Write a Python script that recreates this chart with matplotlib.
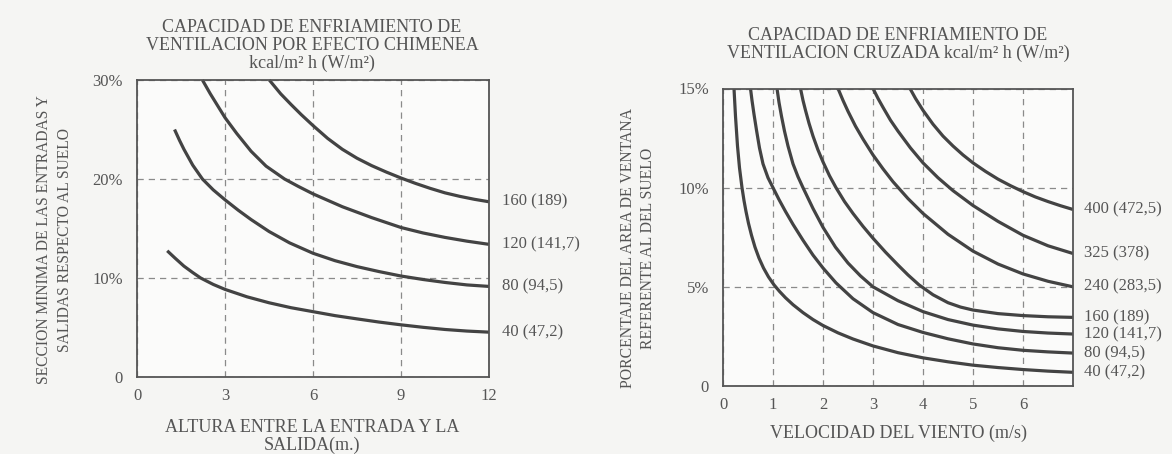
import matplotlib
matplotlib.use("Agg")
import matplotlib.pyplot as plt

# ---------------- data: left chart (stack effect) ----------------
left_xticks = [0, 3, 6, 9, 12]
left_yticks = [0, 10, 20, 30]
left_yticklabels = ["0", "10%", "20%", "30%"]

c160_x = [4.51, 4.9, 5.26, 5.6, 6.0, 6.5, 7.0, 7.5, 8.0, 8.5, 9.0, 9.5, 10.0, 10.5, 11.0, 11.5, 12.0]
c160_y = [30.0, 28.6, 27.5, 26.5, 25.4, 24.1, 23.0, 22.1, 21.35, 20.7, 20.1, 19.55, 19.05,
          18.6, 18.25, 17.95, 17.7]
c120_x = [2.23, 2.5, 2.75, 3.0, 3.4, 3.89, 4.4, 5.03, 5.5, 6.0, 6.5, 7.0, 8.0, 9.0, 9.75,
          10.5, 11.25, 12.0]
c120_y = [30.0, 28.6, 27.4, 26.2, 24.6, 22.8, 21.3, 20.0, 19.25, 18.5, 17.85, 17.2, 16.1,
          15.1, 14.55, 14.1, 13.72, 13.4]
c80_x = [1.28, 1.45, 1.6, 1.9, 2.23, 2.6, 3.0, 3.45, 3.89, 4.5, 5.2, 6.0, 6.75, 7.5, 8.25,
         9.0, 9.75, 10.5, 11.25, 12.0]
c80_y = [25.0, 23.9, 23.0, 21.4, 20.0, 18.9, 17.9, 16.85, 15.9, 14.7, 13.55, 12.5, 11.75,
         11.15, 10.65, 10.2, 9.85, 9.55, 9.3, 9.15]
c40_x = [1.03, 1.3, 1.6, 1.9, 2.17, 2.6, 3.0, 3.75, 4.5, 5.25, 6.0, 6.75, 7.5, 8.25, 9.0,
         9.75, 10.5, 11.25, 12.0]
c40_y = [12.75, 12.0, 11.2, 10.55, 10.0, 9.35, 8.85, 8.1, 7.5, 7.0, 6.6, 6.2, 5.87, 5.55,
         5.27, 5.02, 4.8, 4.64, 4.53]
left_labels = ["160 (189)", "120 (141,7)", "80 (94,5)", "40 (47,2)"]

# ---------------- data: right chart (cross ventilation) ----------------
right_xticks = [0, 1, 2, 3, 4, 5, 6]
right_yticks = [0, 5, 10, 15]
right_yticklabels = ["0", "5%", "10%", "15%"]

r400_x = [3.74, 3.85, 4.0, 4.2, 4.4, 4.6, 4.8, 5.0, 5.25, 5.5, 5.75, 6.0, 6.25, 6.5, 6.75, 7.0]
r400_y = [15.0, 14.5, 13.9, 13.2, 12.6, 12.1, 11.65, 11.25, 10.82, 10.43, 10.1, 9.8, 9.53,
          9.3, 9.09, 8.9]
r325_x = [3.0, 3.1, 3.2, 3.35, 3.5, 3.75, 4.0, 4.3, 4.6, 5.0, 5.5, 6.0, 6.5, 7.0]
r325_y = [15.0, 14.5, 14.05, 13.4, 12.85, 12.0, 11.25, 10.5, 9.85, 9.1, 8.3, 7.6, 7.07, 6.68]
r240_x = [2.3, 2.4, 2.5, 2.65, 2.8, 3.0, 3.2, 3.4, 3.7, 4.0, 4.5, 5.0, 5.5, 6.0, 6.5, 7.0]
r240_y = [15.0, 14.4, 13.85, 13.1, 12.45, 11.65, 10.95, 10.3, 9.45, 8.7, 7.65, 6.8, 6.15,
          5.65, 5.28, 5.0]
r160_x = [1.55, 1.6, 1.65, 1.72, 1.8, 1.9, 2.0, 2.13, 2.26, 2.43, 2.6, 2.8, 3.0, 3.25, 3.5,
          3.7, 3.92, 4.2, 4.5, 4.75, 5.0, 5.5, 6.0, 6.5, 7.0]
r160_y = [15.0, 14.4, 13.9, 13.25, 12.6, 11.9, 11.3, 10.6, 10.0, 9.3, 8.7, 8.05, 7.45, 6.75,
          6.1, 5.6, 5.1, 4.6, 4.2, 3.98, 3.83, 3.65, 3.55, 3.49, 3.46]
r120_x = [1.08, 1.12, 1.17, 1.23, 1.3, 1.4, 1.5, 1.6, 1.8, 2.0, 2.25, 2.5, 2.75, 3.0, 3.5,
          4.0, 4.5, 5.0, 5.5, 6.0, 6.5, 7.0]
r120_y = [15.0, 14.3, 13.6, 12.85, 12.1, 11.2, 10.55, 10.0, 8.95, 8.0, 7.0, 6.2, 5.55, 5.0,
          4.3, 3.75, 3.35, 3.07, 2.88, 2.75, 2.67, 2.62]
r80_x = [0.55, 0.58, 0.62, 0.67, 0.73, 0.8, 0.9, 1.0, 1.12, 1.25, 1.4, 1.6, 1.8, 2.0, 2.26,
         2.6, 3.0, 3.5, 4.0, 4.5, 5.0, 5.5, 6.0, 6.5, 7.0]
r80_y = [15.0, 14.4, 13.7, 12.9, 12.0, 11.2, 10.5, 10.0, 9.4, 8.8, 8.15, 7.35, 6.6, 5.95,
         5.2, 4.4, 3.7, 3.1, 2.7, 2.38, 2.12, 1.93, 1.8, 1.72, 1.66]
r40_x = [0.22, 0.25, 0.29, 0.33, 0.38, 0.42, 0.46, 0.51, 0.57, 0.64, 0.72, 0.81, 0.91, 1.02,
         1.13, 1.25, 1.4, 1.6, 1.8, 2.0, 2.3, 2.6, 3.0, 3.5, 4.0, 4.5, 5.0, 5.5, 6.0, 6.5, 7.0]
r40_y = [15.0, 13.6, 12.1, 11.0, 10.0, 9.35, 8.8, 8.2, 7.6, 7.0, 6.45, 5.95, 5.5, 5.1, 4.77,
         4.45, 4.1, 3.7, 3.35, 3.05, 2.68, 2.37, 2.02, 1.68, 1.42, 1.22, 1.05, 0.93, 0.83,
         0.75, 0.69]
right_labels = ["400 (472,5)", "325 (378)", "240 (283,5)", "160 (189)",
                "120 (141,7)", "80 (94,5)", "40 (47,2)"]

# ---------------- style ----------------
FONT = "Liberation Serif"
TXT = "#555555"
CURVE = "#434343"
GRID = "#8a8a8a"
BG = "#f5f5f3"

plt.rcParams["font.family"] = [FONT, "DejaVu Serif"]

fig = plt.figure(figsize=(11.72, 4.54), dpi=100, facecolor=BG)

axL = fig.add_axes([137 / 1172, 1 - 377 / 454, 352 / 1172, 297 / 454])
axR = fig.add_axes([723 / 1172, 1 - 386 / 454, 350 / 1172, 297.5 / 454])


def style_axes(ax, xticks, yticks, yticklabels, xlim, ylim):
    ax.set_facecolor("#fbfbfa")
    ax.set_xlim(*xlim)
    ax.set_ylim(*ylim)
    ax.set_xticks(xticks)
    ax.set_xticklabels([str(t) for t in xticks])
    ax.set_yticks(yticks)
    ax.set_yticklabels(yticklabels)
    ax.tick_params(length=0, labelsize=12, labelcolor=TXT, pad=10)
    ax.tick_params(axis="x", pad=8)
    for s in ax.spines.values():
        s.set_color("#555555")
        s.set_linewidth(1.3)
    ax.grid(True, linestyle=(0, (5, 4)), color=GRID, linewidth=0.9)
    ax.set_axisbelow(True)


style_axes(axL, left_xticks, left_yticks, left_yticklabels, (0, 12), (0, 30))
style_axes(axR, right_xticks, right_yticks, right_yticklabels, (0, 7), (0, 15))

left_curves = [(c160_x, c160_y), (c120_x, c120_y), (c80_x, c80_y), (c40_x, c40_y)]
for (xs, ys), lab in zip(left_curves, left_labels):
    axL.plot(xs, ys, color=CURVE, lw=2.3, solid_capstyle="butt", solid_joinstyle="round",
             clip_on=False)
    axL.annotate(lab, xy=(xs[-1], ys[-1]), xytext=(9, 0), textcoords="offset points",
                 va="center", ha="left", fontsize=12, color=TXT,
                 annotation_clip=False)

right_curves = [(r400_x, r400_y), (r325_x, r325_y), (r240_x, r240_y), (r160_x, r160_y),
                (r120_x, r120_y), (r80_x, r80_y), (r40_x, r40_y)]
for (xs, ys), lab in zip(right_curves, right_labels):
    axR.plot(xs, ys, color=CURVE, lw=2.3, solid_capstyle="butt", solid_joinstyle="round")
    axR.annotate(lab, xy=(xs[-1], ys[-1]), xytext=(8, 0), textcoords="offset points",
                 va="center", ha="left", fontsize=12, color=TXT,
                 annotation_clip=False)

# ---------------- texts ----------------
TS = 13
fig.text(312 / 1172, 1 - 27 / 454, "CAPACIDAD DE ENFRIAMIENTO DE", ha="center", va="center",
         fontsize=TS, color=TXT)
fig.text(312 / 1172, 1 - 45 / 454, "VENTILACION POR EFECTO CHIMENEA", ha="center", va="center",
         fontsize=TS, color=TXT)
fig.text(312 / 1172, 1 - 63 / 454, "kcal/m² h (W/m²)", ha="center", va="center",
         fontsize=TS, color=TXT)

fig.text(898 / 1172, 1 - 35 / 454, "CAPACIDAD DE ENFRIAMIENTO DE", ha="center", va="center",
         fontsize=TS, color=TXT)
fig.text(898 / 1172, 1 - 53 / 454, "VENTILACION CRUZADA kcal/m² h (W/m²)", ha="center",
         va="center", fontsize=TS, color=TXT)

fig.text(44 / 1172, 1 - 240 / 454, "SECCION MINIMA DE LAS ENTRADAS Y", rotation=90,
         ha="center", va="center", fontsize=11.2, color=TXT)
fig.text(65 / 1172, 1 - 240 / 454, "SALIDAS RESPECTO AL SUELO", rotation=90,
         ha="center", va="center", fontsize=11.2, color=TXT)

fig.text(628 / 1172, 1 - 248 / 454, "PORCENTAJE DEL AREA DE VENTANA", rotation=90,
         ha="center", va="center", fontsize=11.3, color=TXT)
fig.text(648 / 1172, 1 - 248 / 454, "REFERENTE AL DEL SUELO", rotation=90,
         ha="center", va="center", fontsize=11.3, color=TXT)

fig.text(312 / 1172, 1 - 427 / 454, "ALTURA ENTRE LA ENTRADA Y LA", ha="center", va="center",
         fontsize=TS, color=TXT)
fig.text(312 / 1172, 1 - 445 / 454, "SALIDA(m.)", ha="center", va="center",
         fontsize=TS, color=TXT)

fig.text(898 / 1172, 1 - 433 / 454, "VELOCIDAD DEL VIENTO (m/s)", ha="center", va="center",
         fontsize=TS, color=TXT)

fig.savefig("out.png", dpi=100, facecolor=BG)
